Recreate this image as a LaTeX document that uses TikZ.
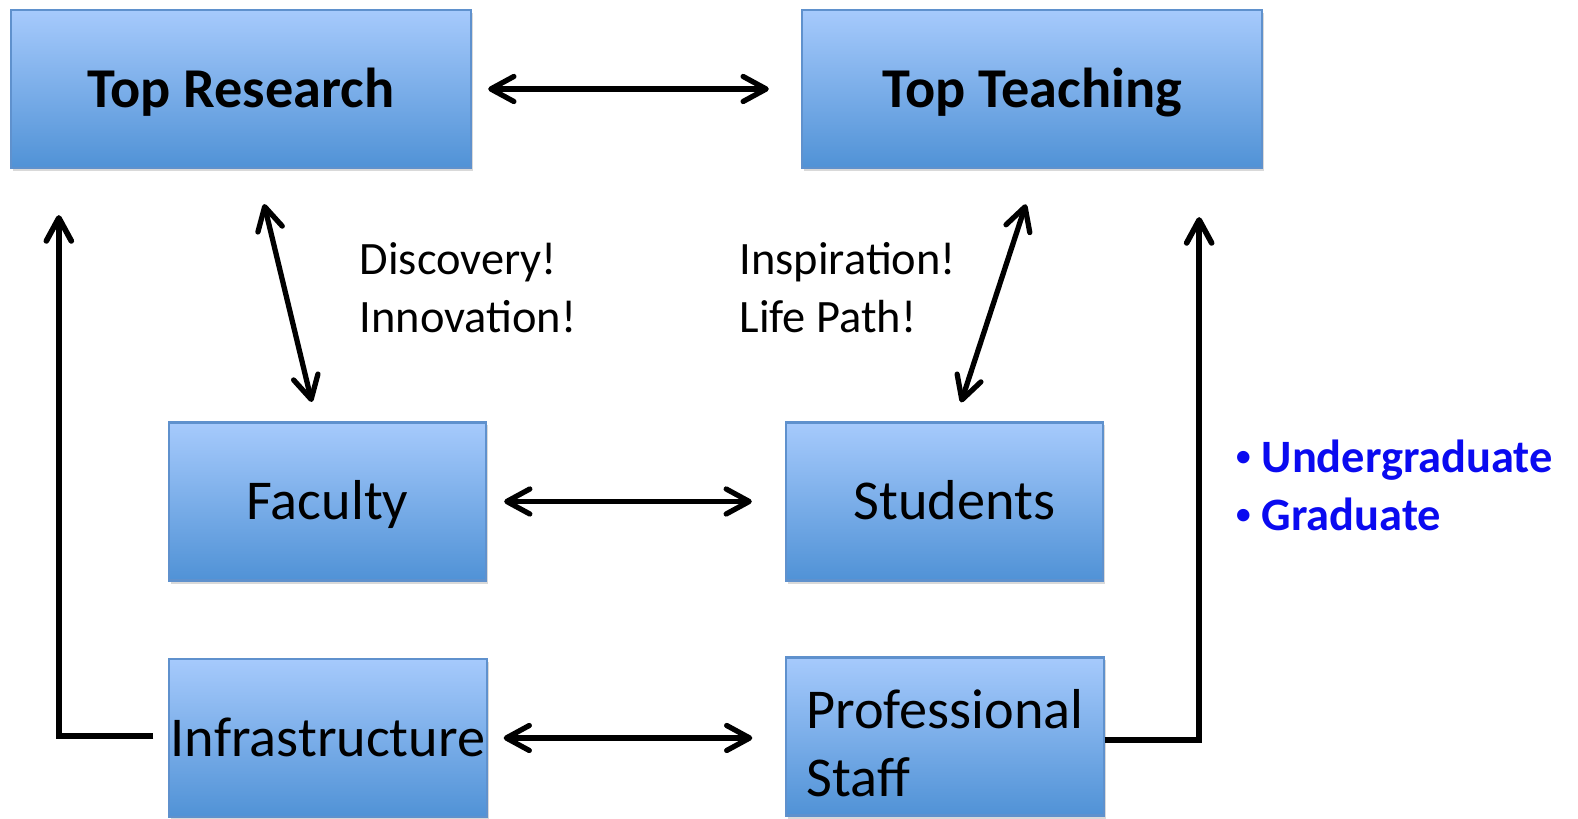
\documentclass[tikz,border=0pt]{standalone}
\usepackage{fontspec}
\setmainfont{Carlito}
\usepackage{tikz}
\usetikzlibrary{ arrows.meta, % For the open arrow tips
                 shadows,     % For the shadow under the boxes
               }
\definecolor{boxtop}{RGB}{166,202,252}
\definecolor{boxbottom}{RGB}{80,146,214}
\definecolor{boxedge}{RGB}{95,145,205}
\definecolor{listblue}{RGB}{10,10,240}
\tikzset{>={Straight Barb[length=2.3mm, width=2.5mm, round]}}
\newcommand{\smallbullet}{\makebox[0.27cm][l]{\raisebox{0.05cm}{\fontsize{10}{12}\mdseries\selectfont\textbullet}}}

\begin{document}
\begin{tikzpicture}[x=0.01cm, y=-0.01cm,
    box/.style={rectangle, draw=boxedge, line width=0.6pt, top color=boxtop, bottom color=boxbottom,
      minimum width=3.17cm, minimum height=1.58cm, inner sep=0pt,
      drop shadow={shadow xshift=0.02cm, shadow yshift=-0.03cm, opacity=0.3},
      font=\fontsize{16}{19.5}\selectfont},
    linebox/.style={box, text height=14.5pt, text depth=4pt},
    bigbox/.style={linebox, minimum width=4.6cm, font=\fontsize{16}{19.5}\selectfont\bfseries},
    note/.style={align=left, anchor=west, inner sep=0pt, font=\fontsize{13.2}{16.5}\selectfont},
    link/.style={<->, line width=1.5pt},
    feed/.style={->, line width=1.6pt}]
    \useasboundingbox (0,0) rectangle (1578,819);
    \node[bigbox] (research) at (241,89) {Top Research};
    \node[bigbox] (teaching) at (1032,89) {Top Teaching};
    \node[linebox] (faculty) at (327.5,501.5) {Faculty};
    \node[linebox] (students) at (944.5,501.5) {\hspace*{0.2cm}Students};
    \node[linebox] (infra) at (328,738) {Infrastructure};
    \node[box, align=left, text height=34.3pt, text depth=0pt] (staff) at (945,736.5) {Professional\\Staff};
    \node[note] (rnotes) at (359,288) {Discovery!\\Innovation!};
    \node[note] (tnotes) at (739,288) {Inspiration!\\Life Path!};
    \node[note, text=listblue, font=\fontsize{13.2}{16.5}\selectfont\bfseries] (levels) at (1234,485)
      {\smallbullet Undergraduate\\\smallbullet Graduate};
    \draw[link, shorten <=0.16cm, shorten >=0.32cm] (research) -- (teaching);
    \draw[link, shorten <=0.17cm, shorten >=0.33cm] (faculty) -- (students);
    \draw[link, shorten <=0.16cm, shorten >=0.33cm] (infra.east) -- (infra.east -| staff.west);
    \draw[link, shorten <=0.36cm, shorten >=0.2cm] ([xshift=0.146cm]research.south) -- ([xshift=-0.11cm]faculty.north);
    \draw[link, shorten <=0.37cm, shorten >=0.2cm] ([xshift=0.054cm]teaching.south) -- ([xshift=0.103cm]students.north);
    \draw[feed] ([xshift=-0.15cm, yshift=0.02cm]infra.west) -| ([xshift=0.49cm, yshift=-0.46cm]research.south west);
    \draw[feed] ([yshift=-0.035cm]staff.east) -| ([xshift=-0.64cm, yshift=-0.48cm]teaching.south east);
  \end{tikzpicture}
\end{document}
